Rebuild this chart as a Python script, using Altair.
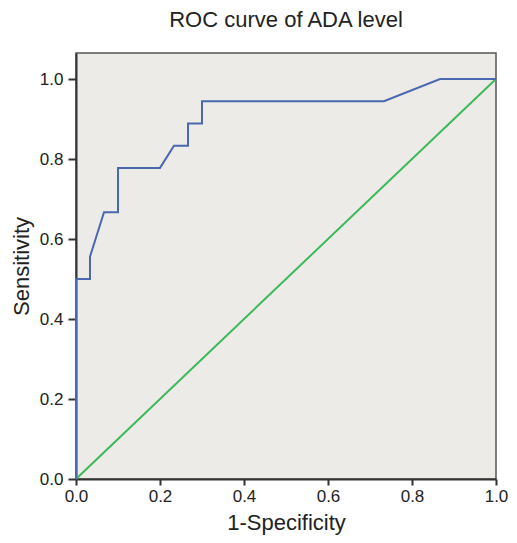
import altair as alt
import pandas as pd

# ROC curve points (1-Specificity, Sensitivity)
fpr = [0.0, 0.0, 0.0333, 0.0333, 0.0667, 0.1, 0.1, 0.2, 0.2333, 0.2667, 0.2667, 0.3, 0.3, 0.7333, 0.8667, 1.0]
tpr = [0.0, 0.5, 0.5, 0.5556, 0.6667, 0.6667, 0.7778, 0.7778, 0.8333, 0.8333, 0.8889, 0.8889, 0.9444, 0.9444, 1.0, 1.0]
ref_x = [0.0, 1.0]
ref_y = [0.0, 1.0]
ticks = [0.0, 0.2, 0.4, 0.6, 0.8, 1.0]

roc = pd.DataFrame({"x": fpr, "y": tpr, "o": list(range(len(fpr)))})
ref = pd.DataFrame({"x": ref_x, "y": ref_y, "o": [0, 1]})

xs = alt.Scale(domain=[0, 1], nice=False, zero=False)
ys = alt.Scale(domain=[0, 1.065], nice=False, zero=False)

common = dict(values=ticks, format=".1f", grid=False, labelFlush=False, labelOverlap=False,
              labelFontSize=17, titleFontSize=22, titleFontWeight="normal",
              labelColor="#222", titleColor="#222", domainColor="#333", tickColor="#333",
              domainWidth=2, tickWidth=2)
xax = alt.Axis(title="1-Specificity", tickSize=6, labelPadding=3, titlePadding=8, **common)
yax = alt.Axis(title="Sensitivity", tickSize=8, labelPadding=5, titlePadding=6, **common)

green = alt.Chart(ref).mark_line(color="#3db85a", strokeWidth=2).encode(
    x=alt.X("x:Q", scale=xs, axis=xax),
    y=alt.Y("y:Q", scale=ys, axis=yax),
    order="o:Q",
)
blue = alt.Chart(roc).mark_line(color="#4a68b0", strokeWidth=2).encode(
    x=alt.X("x:Q", scale=xs),
    y=alt.Y("y:Q", scale=ys),
    order="o:Q",
)

chart = alt.layer(green, blue).properties(
    width=420, height=426,
    title=alt.TitleParams("ROC curve of ADA level", fontSize=22, fontWeight="normal",
                          color="#222", offset=21, anchor="middle"),
    autosize=alt.AutoSizeParams(type="none"),
    padding={"left": 68, "top": 45, "right": 13, "bottom": 56},
).configure(
    font="Liberation Sans"
).configure_view(
    fill="#edebe7", stroke="#555", strokeWidth=1.5
)

chart.save("out.html", embed_options={"renderer": "svg", "actions": False})
